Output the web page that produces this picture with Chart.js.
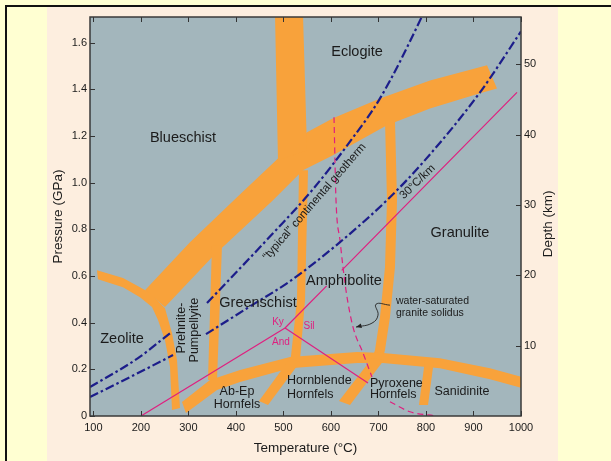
<!DOCTYPE html>
<html>
<head>
<meta charset="utf-8">
<title>Metamorphic facies</title>
<script src="https://cdn.jsdelivr.net/npm/chart.js@4.4.1/dist/chart.umd.min.js"></script>
<style>
  html, body { margin: 0; padding: 0; }
  body { width: 611px; height: 461px; background: #ffffd2; position: relative; overflow: hidden; }
  #frame { position: absolute; left: 5px; top: 5px; right: 0; bottom: 0; border-top: 2px solid #111; border-left: 2px solid #111; }
  #panel { position: absolute; left: 47px; top: 7px; width: 511px; bottom: 0; background: #fdeedf; }
  #wrap { position: absolute; left: 0; top: 0; width: 611px; height: 461px; }
</style>
</head>
<body>
<div id="frame"></div>
<div id="panel"></div>
<div id="wrap"><canvas id="facies"></canvas></div>
<script>
const tempTicks = [100, 200, 300, 400, 500, 600, 700, 800, 900, 1000];
const pressureTicks = [0, 0.2, 0.4, 0.6, 0.8, 1.0, 1.2, 1.4, 1.6];
const depthTicks = [10, 20, 30, 40, 50];

// facies boundary bands, outlines as [T (°C), P (GPa)]
const blueschistBand = [[208.7,0.539],[303.4,0.745],[402.3,0.938],[488.6,1.104],[549.7,1.216],[604.4,1.276],[703.3,1.361],[808.5,1.438],[928.5,1.503],[949.5,1.404],[913.7,1.383],[808.5,1.318],[718.0,1.246],[604.4,1.117],[541.2,1.053],[478.1,0.925],[351.8,0.685],[250.8,0.467]];
const zeoliteBand = [[107.7,0.625],[162.4,0.591],[198.2,0.552],[219.3,0.527],[250.8,0.462],[265.6,0.355],[276.1,0.240],[282.4,0.034],[265.6,0.026],[261.4,0.210],[250.8,0.325],[236.1,0.411],[223.5,0.467],[198.2,0.509],[162.4,0.552],[109.8,0.586]];
const eclogiteBand = [[482.3,1.72],[488.6,1.096],[549.7,1.139],[541.2,1.72]];
const amphiboliteBand = [[532.8,1.053],[551.8,1.053],[545.5,0.497],[534.9,0.240],[513.9,0.218],[528.6,0.497]];
const prehniteBand = [[349.7,0.732],[370.8,0.732],[360.3,0.154],[341.3,0.154]];
const granuliteBand = [[713.8,1.267],[718.0,0.925],[713.8,0.638],[703.3,0.424],[692.8,0.283],[684.3,0.231],[707.5,0.231],[713.8,0.283],[724.3,0.424],[734.8,0.638],[739.1,0.925],[734.8,1.267]];
const hornfelsBand = [[286.6,0.060],[345.5,0.154],[408.7,0.197],[513.9,0.253],[654.9,0.274],[709.6,0.270],[829.5,0.248],[934.8,0.205],[1008.4,0.163],[1008.4,0.116],[934.8,0.158],[829.5,0.205],[709.6,0.227],[654.9,0.227],[513.9,0.205],[408.7,0.146],[360.3,0.111],[295.0,0.013]];
const abEpBand = [[513.9,0.248],[534.9,0.231],[467.6,0.047],[448.6,0.064]];
const pyroxeneBand = [[686.4,0.248],[711.7,0.240],[640.1,0.047],[617.0,0.064]];
const sanidiniteBand = [[798.0,0.240],[816.9,0.240],[804.3,0.047],[785.3,0.047]];

// geotherms and reaction curves (null = break in the line)
const continentalGeotherm = [[93,0.124],[194.0,0.248],[261.4,0.355],null,[339.2,0.484],[478.1,0.783],[560.2,0.967],[642.3,1.182],[703.3,1.361],[789.6,1.704],[792,1.715]];
const geotherm30 = [[93,0.081],[194.0,0.184],[267.7,0.261],null,[337.1,0.351],[427.6,0.467],[513.9,0.578],[619.1,0.745],[718.0,0.925],[793.8,1.087],[913.7,1.387],[1000,1.648]];
const kyAndLine = [[200.3,0],[503.4,0.377]];
const kySilLine = [[503.4,0.377],[591.1,0.558],null,[622.7,0.624],[991.6,1.387]];
const andSilLine = [[503.4,0.377],[678.0,0.141]];
const graniteSolidus = [[606.5,1.280],[610.7,0.925],[619.1,0.753],[631.7,0.539],[646.5,0.381],[667.5,0.270],[686.4,0.167],null,[724.3,0.061],[766.4,0.018],[823.2,0]];
const solidusPointer = [[724.3,0.475],[694.9,0.479],[699.1,0.432],[686.4,0.398],[652.8,0.381]];

const ORANGE = '#f8a23b';
const NAVY = '#1c1d8a';
const MAGENTA = '#df1f7f';
const FONT = '"Liberation Sans", Arial, Helvetica, sans-serif';

function toXY(list) {
  return list.map(p => p ? { x: p[0], y: p[1] } : { x: null, y: null });
}

function band(list) {
  return { data: toXY(list), band: true, showLine: false, pointRadius: 0, backgroundColor: ORANGE, order: 2 };
}

function curve(list, color, width, dash, smooth) {
  return {
    data: toXY(list), borderColor: color, borderWidth: width, borderDash: dash,
    pointRadius: 0, fill: false, order: 1,
    cubicInterpolationMode: smooth ? 'monotone' : 'default'
  };
}

const textLabels = [
  { text: 'Eclogite', t: 654.9, p: 1.558, size: 14.5 },
  { text: 'Blueschist', t: 288.7, p: 1.190, size: 14.5 },
  { text: 'Granulite', t: 871.6, p: 0.783, size: 14.5 },
  { text: 'Amphibolite', t: 627.5, p: 0.578, size: 14.5 },
  { text: 'Greenschist', t: 446.5, p: 0.484, size: 14.5 },
  { text: 'Zeolite', t: 160.3, p: 0.330, size: 14.5 },
  { text: 'Prehnite-', t: 286.6, p: 0.377, size: 12.5, angle: -90 },
  { text: 'Pumpellyite', t: 314.0, p: 0.368, size: 12.5, angle: -90 },
  { text: 'Ab-Ep', t: 402.3, p: 0.103, size: 12.5 },
  { text: 'Hornfels', t: 402.3, p: 0.051, size: 12.5 },
  { text: 'Hornblende', t: 507.6, p: 0.150, size: 12.5, align: 'left' },
  { text: 'Hornfels', t: 507.6, p: 0.094, size: 12.5, align: 'left' },
  { text: 'Pyroxene', t: 682.2, p: 0.141, size: 12.5, align: 'left' },
  { text: 'Hornfels', t: 682.2, p: 0.090, size: 12.5, align: 'left' },
  { text: 'Sanidinite', t: 875.8, p: 0.103, size: 12.5 },
  { text: 'Ky', t: 488.6, p: 0.402, size: 10, color: MAGENTA },
  { text: 'And', t: 494.9, p: 0.317, size: 10, color: MAGENTA },
  { text: 'Sil', t: 553.9, p: 0.385, size: 10, color: MAGENTA },
  { text: 'water-saturated', t: 737.0, p: 0.492, size: 10.5, align: 'left' },
  { text: 'granite solidus', t: 737.0, p: 0.441, size: 10.5, align: 'left' },
  { text: '\u201ctypical\u201d continental geotherm', t: 565.4, p: 0.918, size: 11.5, angle: -49 },
  { text: '30\u00b0C/km', t: 782.2, p: 1.003, size: 11.5, angle: -44 }
];

const bandFill = {
  id: 'bandFill',
  beforeDraw(chart) {
    const { ctx, chartArea: a } = chart;
    ctx.save();
    ctx.fillStyle = '#a3b6bc';
    ctx.fillRect(a.left, a.top, a.right - a.left, a.bottom - a.top);
    ctx.restore();
  },
  beforeDatasetsDraw(chart) {
    const { ctx, chartArea: a } = chart;
    ctx.save();
    ctx.beginPath();
    ctx.rect(a.left, a.top, a.right - a.left, a.bottom - a.top);
    ctx.clip();
    chart.data.datasets.forEach((ds, i) => {
      if (!ds.band) return;
      const pts = chart.getDatasetMeta(i).data;
      ctx.beginPath();
      pts.forEach((pt, k) => k ? ctx.lineTo(pt.x, pt.y) : ctx.moveTo(pt.x, pt.y));
      ctx.closePath();
      ctx.fillStyle = ds.backgroundColor;
      ctx.fill();
    });
    ctx.restore();
  }
};

const frameTicks = {
  id: 'frameTicks',
  afterDatasetsDraw(chart) {
    const { ctx, chartArea: a, scales } = chart;
    ctx.save();
    ctx.strokeStyle = '#333';
    ctx.lineWidth = 1;
    ctx.beginPath();
    tempTicks.forEach(v => {
      const px = Math.round(scales.x.getPixelForValue(v)) + 0.5;
      ctx.moveTo(px, a.bottom); ctx.lineTo(px, a.bottom - 5);
      ctx.moveTo(px, a.top); ctx.lineTo(px, a.top + 5);
    });
    pressureTicks.forEach(v => {
      const py = Math.round(scales.y.getPixelForValue(v)) + 0.5;
      ctx.moveTo(a.left, py); ctx.lineTo(a.left + 5, py);
    });
    depthTicks.forEach(v => {
      const py = Math.round(scales.y2.getPixelForValue(v)) + 0.5;
      ctx.moveTo(a.right, py); ctx.lineTo(a.right - 5, py);
    });
    ctx.stroke();
    ctx.strokeStyle = '#3a3a3a';
    ctx.lineWidth = 1.5;
    ctx.strokeRect(a.left, a.top, a.right - a.left, a.bottom - a.top);
    ctx.restore();
  },
  afterDraw(chart) {
    const { ctx, chartArea: a, scales } = chart;
    ctx.save();
    // arrow head at the end of the solidus pointer
    const meta = chart.getDatasetMeta(chart.data.datasets.findIndex(d => d.pointer));
    const n = meta.data.length;
    const tip = meta.data[n - 1], prev = meta.data[n - 2];
    const ang = Math.atan2(tip.y - prev.y, tip.x - prev.x);
    ctx.fillStyle = '#222';
    ctx.beginPath();
    ctx.moveTo(tip.x, tip.y);
    ctx.lineTo(tip.x - 6 * Math.cos(ang - 0.4), tip.y - 6 * Math.sin(ang - 0.4));
    ctx.lineTo(tip.x - 6 * Math.cos(ang + 0.4), tip.y - 6 * Math.sin(ang + 0.4));
    ctx.closePath();
    ctx.fill();

    ctx.textBaseline = 'middle';
    textLabels.forEach(l => {
      ctx.save();
      ctx.translate(scales.x.getPixelForValue(l.t), scales.y.getPixelForValue(l.p));
      if (l.angle) ctx.rotate(l.angle * Math.PI / 180);
      ctx.font = l.size + 'px ' + FONT;
      ctx.fillStyle = l.color || '#1b1b1b';
      ctx.textAlign = l.align || 'center';
      ctx.fillText(l.text, 0, 0);
      ctx.restore();
    });

    // right-hand axis title, reading upwards
    ctx.translate(a.right + 27, scales.y2.getPixelForValue(27.3));
    ctx.rotate(-Math.PI / 2);
    ctx.font = '13.5px ' + FONT;
    ctx.fillStyle = '#1b1b1b';
    ctx.textAlign = 'center';
    ctx.fillText('Depth (km)', 0, 0);
    ctx.restore();
  }
};

const pointer = curve(solidusPointer, '#222', 0.9, [], false);
pointer.tension = 0.45;
pointer.pointer = true;

const datasets = [
  curve(continentalGeotherm, NAVY, 2.2, [9, 3, 2.5, 3], true),
  curve(geotherm30, NAVY, 2.2, [9, 3, 2.5, 3], true),
  curve(kyAndLine, MAGENTA, 1.2, [], false),
  curve(kySilLine, MAGENTA, 1.2, [], false),
  curve(andSilLine, MAGENTA, 1.2, [], false),
  curve(graniteSolidus, MAGENTA, 1.2, [6, 4], true),
  pointer,
  band(blueschistBand),
  band(zeoliteBand),
  band(eclogiteBand),
  band(amphiboliteBand),
  band(prehniteBand),
  band(granuliteBand),
  band(hornfelsBand),
  band(abEpBand),
  band(pyroxeneBand),
  band(sanidiniteBand)
];

const tickFont = { family: FONT, size: 11 };

new Chart(document.getElementById('facies'), {
  type: 'line',
  data: { datasets: datasets },
  options: {
    responsive: true,
    maintainAspectRatio: false,
    animation: false,
    events: [],
    layout: { padding: { top: 17, left: 0, right: 0, bottom: 0 } },
    plugins: { legend: { display: false }, tooltip: { enabled: false } },
    scales: {
      x: {
        type: 'linear',
        min: 93,
        max: 1000,
        afterBuildTicks: s => { s.ticks = tempTicks.map(v => ({ value: v })); },
        afterFit: s => { s.height = 45; },
        grid: { display: false, drawTicks: false },
        border: { display: false },
        ticks: { font: tickFont, color: '#1b1b1b', padding: 5, maxRotation: 0, callback: v => String(v) },
        title: { display: true, text: 'Temperature (\u00b0C)', font: { family: FONT, size: 13.5 }, color: '#1b1b1b', padding: { top: 0, bottom: 5 } }
      },
      y: {
        position: 'left',
        min: 0,
        max: 1.71,
        afterBuildTicks: s => { s.ticks = pressureTicks.map(v => ({ value: v })); },
        afterFit: s => { s.width = 90; },
        grid: { display: false, drawTicks: false },
        border: { display: false },
        ticks: { font: tickFont, color: '#1b1b1b', padding: 3, callback: v => v === 0 ? '0' : v.toFixed(1) },
        title: { display: true, text: 'Pressure (GPa)', font: { family: FONT, size: 13.5 }, color: '#1b1b1b', padding: { top: 50, bottom: 0 } }
      },
      y2: {
        position: 'right',
        min: 0,
        max: 56.7,
        afterBuildTicks: s => { s.ticks = depthTicks.map(v => ({ value: v })); },
        afterFit: s => { s.width = 90; },
        grid: { display: false, drawTicks: false },
        border: { display: false },
        ticks: { font: tickFont, color: '#1b1b1b', padding: 3 }
      }
    }
  },
  plugins: [bandFill, frameTicks]
});
</script>
</body>
</html>
